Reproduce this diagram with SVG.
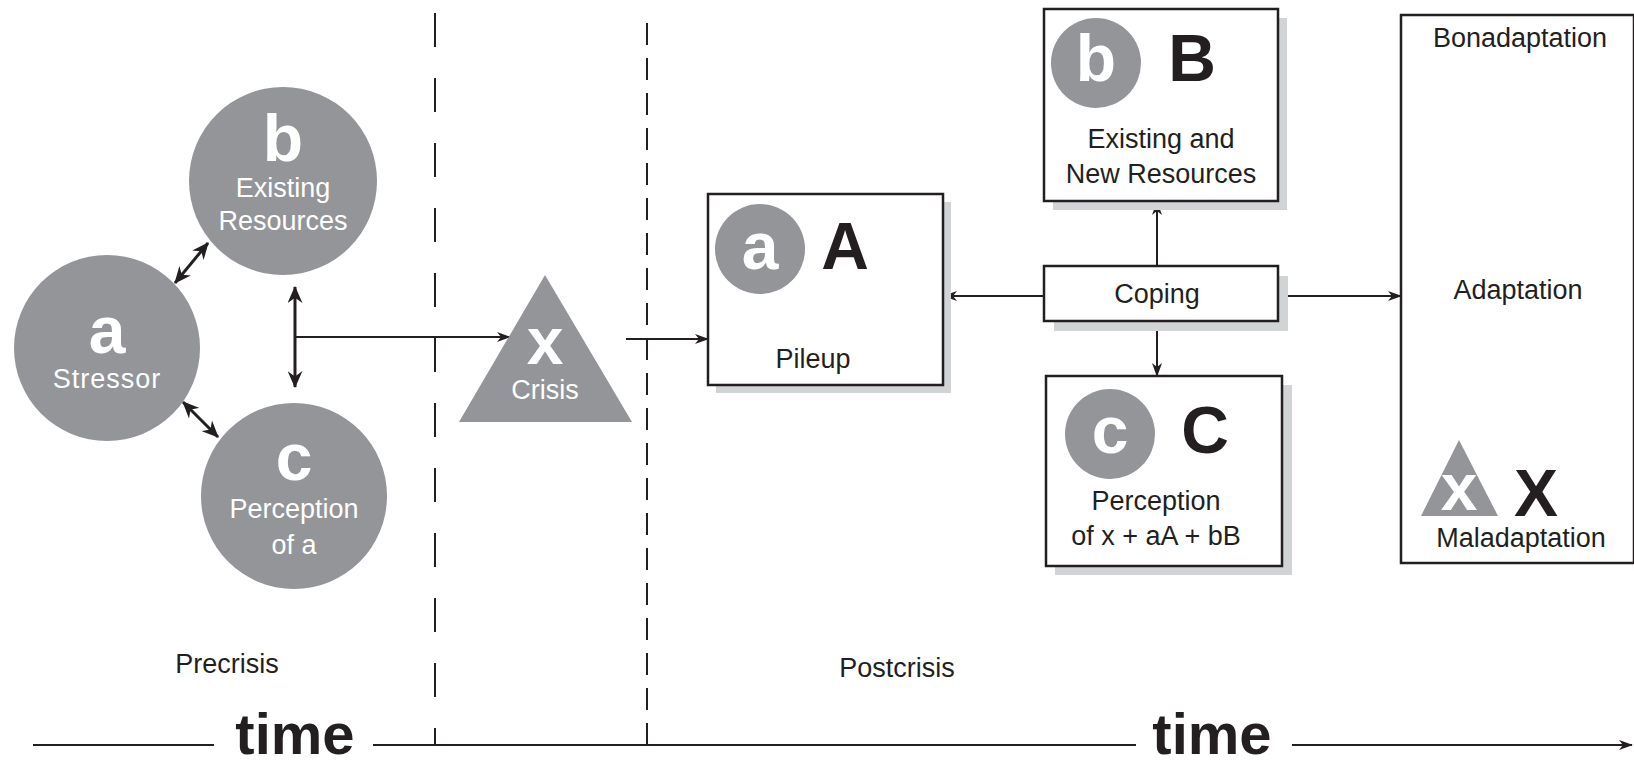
<svg xmlns="http://www.w3.org/2000/svg" width="1634" height="767" viewBox="0 0 1634 767">
  <style>
    .bg { fill: #ffffff; }
    .disc { fill: #939598; }
    .box { fill: #ffffff; stroke: #231f20; stroke-width: 2.5; }
    .shadow { fill: #d1d3d4; }
    .wire { fill: none; stroke: #231f20; stroke-width: 2; }
    .wire-bold { fill: none; stroke: #231f20; stroke-width: 3; }
    .dash1 { fill: none; stroke: #231f20; stroke-width: 2; stroke-dasharray: 34 31; }
    .dash2 { fill: none; stroke: #231f20; stroke-width: 2; stroke-dasharray: 22 13; }
    text { font-family: "Liberation Sans", Arial, sans-serif; text-anchor: middle; }
    .big-w { fill: #ffffff; font-size: 66px; font-weight: bold; }
    .lbl-w { fill: #ffffff; font-size: 27px; }
    .big-k { fill: #231f20; font-size: 66px; font-weight: bold; }
    .lbl-k { fill: #231f20; font-size: 27px; }
    .time { fill: #231f20; font-size: 58px; font-weight: bold; }
  </style>
  <defs>
    <marker id="head" viewBox="0 0 14 10" refX="13" refY="5" markerWidth="14" markerHeight="10" markerUnits="userSpaceOnUse" orient="auto-start-reverse">
      <path d="M0,0 L14,5 L0,10 L4,5 z" fill="#231f20"/>
    </marker>
    <marker id="head-bold" viewBox="0 0 16 14" refX="15" refY="7" markerWidth="17" markerHeight="15" markerUnits="userSpaceOnUse" orient="auto-start-reverse">
      <path d="M0,0 L16,7 L0,14 L5,7 z" fill="#231f20"/>
    </marker>
  </defs>

  <rect class="bg" x="0" y="0" width="1634" height="767"/>

  <!-- period separators and time axis -->
  <g id="timeline">
    <line class="dash1" x1="435" y1="13" x2="435" y2="745"/>
    <line class="dash2" x1="647" y1="745" x2="647" y2="12"/>
    <line class="wire" x1="33" y1="745" x2="214" y2="745"/>
    <line class="wire" x1="373" y1="745" x2="1136" y2="745"/>
    <line class="wire" x1="1292" y1="745" x2="1632" y2="745" marker-end="url(#head)"/>
    <text class="time" x="295" y="754">time</text>
    <text class="time" x="1212" y="754">time</text>
    <text class="lbl-k" x="227" y="673">Precrisis</text>
    <text class="lbl-k" x="897" y="677">Postcrisis</text>
  </g>

  <!-- connectors -->
  <g id="connectors">
    <line class="wire-bold" x1="175" y1="283" x2="208" y2="243" marker-start="url(#head-bold)" marker-end="url(#head-bold)"/>
    <line class="wire-bold" x1="183" y1="402" x2="218" y2="437" marker-start="url(#head-bold)" marker-end="url(#head-bold)"/>
    <line class="wire-bold" x1="295" y1="287" x2="295" y2="387" marker-start="url(#head-bold)" marker-end="url(#head-bold)"/>
    <line class="wire" x1="295" y1="337" x2="510" y2="337" marker-end="url(#head)"/>
    <line class="wire" x1="626" y1="339" x2="708" y2="339" marker-end="url(#head)"/>
    <line class="wire" x1="1044" y1="296" x2="944" y2="296" marker-end="url(#head)"/>
    <line class="wire" x1="1157" y1="266" x2="1157" y2="202" marker-end="url(#head)"/>
    <line class="wire" x1="1157" y1="331" x2="1157" y2="376" marker-end="url(#head)"/>
    <line class="wire" x1="1288" y1="296" x2="1401" y2="296" marker-end="url(#head)"/>
    <line class="wire" x1="1519" y1="272" x2="1519" y2="68" marker-end="url(#head)"/>
    <line class="wire" x1="1519" y1="316" x2="1519" y2="438" marker-end="url(#head)"/>
  </g>

  <!-- precrisis factors -->
  <g id="node-a">
    <circle class="disc" cx="107" cy="348" r="93"/>
    <text class="big-w" x="107" y="353">a</text>
    <text class="lbl-w" x="107" y="388" letter-spacing="1">Stressor</text>
  </g>
  <g id="node-b">
    <circle class="disc" cx="283" cy="181" r="94"/>
    <text class="big-w" x="283" y="161">b</text>
    <text class="lbl-w" x="283" y="197">Existing</text>
    <text class="lbl-w" x="283" y="230">Resources</text>
  </g>
  <g id="node-c">
    <circle class="disc" cx="294" cy="496" r="93"/>
    <text class="big-w" x="294" y="480">c</text>
    <text class="lbl-w" x="294" y="518">Perception</text>
    <text class="lbl-w" x="294" y="554">of a</text>
  </g>

  <!-- crisis -->
  <g id="node-x">
    <polygon class="disc" points="545,275 632,422 459,422"/>
    <text class="big-w" x="545" y="364">x</text>
    <text class="lbl-w" x="545" y="399">Crisis</text>
  </g>

  <!-- postcrisis factors -->
  <g id="node-pileup">
    <rect class="shadow" x="716" y="202" width="235" height="191"/>
    <rect class="box" x="708" y="194" width="235" height="191"/>
    <circle class="disc" cx="760" cy="249" r="45"/>
    <text class="big-w" x="760" y="269">a</text>
    <text class="big-k" x="845" y="269">A</text>
    <text class="lbl-k" x="813" y="368">Pileup</text>
  </g>
  <g id="node-resources">
    <rect class="shadow" x="1053" y="18" width="234" height="192"/>
    <rect class="box" x="1044" y="9" width="234" height="192"/>
    <circle class="disc" cx="1096" cy="63" r="45"/>
    <text class="big-w" x="1096" y="81">b</text>
    <text class="big-k" x="1192" y="81">B</text>
    <text class="lbl-k" x="1161" y="148">Existing and</text>
    <text class="lbl-k" x="1161" y="183">New Resources</text>
  </g>
  <g id="node-coping">
    <rect class="shadow" x="1054" y="276" width="234" height="55"/>
    <rect class="box" x="1044" y="266" width="234" height="55"/>
    <text class="lbl-k" x="1157" y="303">Coping</text>
  </g>
  <g id="node-perception">
    <rect class="shadow" x="1055" y="385" width="237" height="190"/>
    <rect class="box" x="1046" y="376" width="236" height="190"/>
    <circle class="disc" cx="1110" cy="434" r="45"/>
    <text class="big-w" x="1110" y="453">c</text>
    <text class="big-k" x="1205" y="453">C</text>
    <text class="lbl-k" x="1156" y="510">Perception</text>
    <text class="lbl-k" x="1156" y="545">of x + aA + bB</text>
  </g>

  <!-- outcome -->
  <g id="node-adaptation">
    <rect class="box" x="1401" y="15" width="233" height="548"/>
    <text class="lbl-k" x="1520" y="47">Bonadaptation</text>
    <text class="lbl-k" x="1518" y="299">Adaptation</text>
    <polygon class="disc" points="1459,440 1498,516 1421,516"/>
    <text class="big-w" x="1459" y="510" font-size="56">x</text>
    <text class="big-k" x="1536" y="516" font-size="64">X</text>
    <text class="lbl-k" x="1521" y="547">Maladaptation</text>
  </g>
</svg>
